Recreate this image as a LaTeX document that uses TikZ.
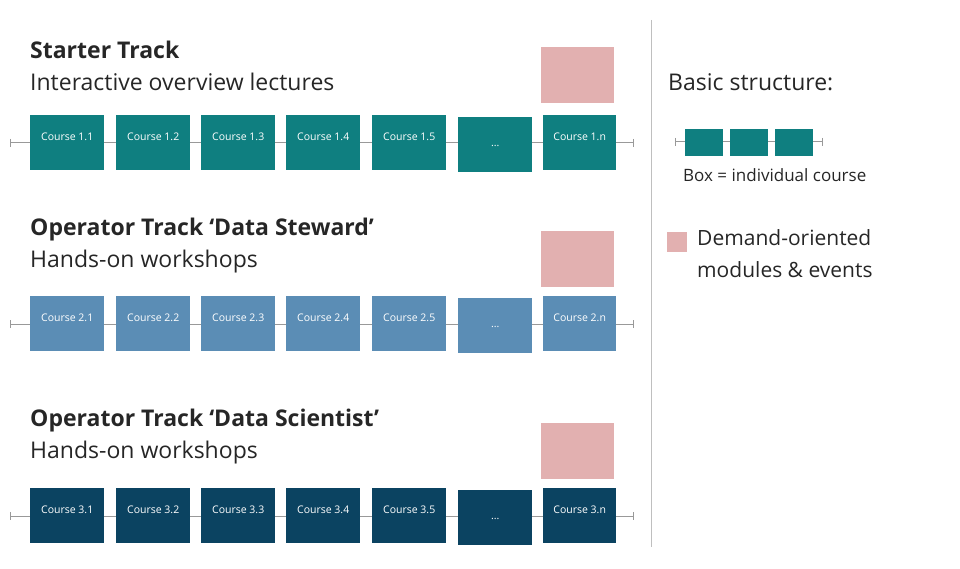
\documentclass[tikz,border=0pt]{standalone}
\usepackage{fontspec}
\setmainfont{Open Sans}
\begin{document}
\begin{tikzpicture}[x=1pt,y=-1pt,
  box/.style={minimum width=74pt,minimum height=55pt,inner sep=0pt,anchor=north west,text=white,font=\fontsize{10.5}{12}\selectfont},
  lbl/.style={anchor=west,inner sep=0pt,font=\fontsize{23}{26}\selectfont,text=black!85},
  ttl/.style={lbl,font=\fontsize{23}{26}\selectfont\bfseries},
  tl/.style={draw=gray!80,line width=1pt}]
\useasboundingbox (0,0) rectangle (960,569);
\definecolor{c1}{HTML}{0F7F80}\definecolor{c2}{HTML}{5B8DB5}\definecolor{c3}{HTML}{0B4361}\definecolor{pk}{HTML}{E2B0B0}
\foreach \t/\col/\yt/\yb/\yp/\ttext/\stext in {1/c1/50/115/47/{Starter Track}/{Interactive overview lectures},2/c2/230/296/231/{Operator Track ‘Data Steward’}/{Hands-on workshops},3/c3/421/488/423/{Operator Track ‘Data Scientist’}/{Hands-on workshops}}{
  \node[ttl] (t\t) at (30,\yt) {\ttext};
  \node[lbl] (s\t) at (30,\yt+32) {\stext};
  \coordinate (L\t) at (10,\yb+28);
  \coordinate (R\t) at (633,\yb+28);
  \draw[tl] (L\t) -- (R\t);
  \draw[tl] (L\t)++(0,-4) -- ++(0,8);
  \draw[tl] (R\t)++(0,-4) -- ++(0,8);
  \foreach \i/\x in {1/30,2/116,3/201,4/286,5/372}{
    \node[box,fill=\col] (b\t\i) at (\x,\yb) {\raisebox{12pt}{Course \t.\i}};}
  \node[box,fill=\col] (d\t) at (458,\yb+2) {\raisebox{-4pt}{...}};
  \node[box,fill=\col,minimum width=73pt] (n\t) at (543,\yb) {\raisebox{12pt}{Course \t.n}};
  \node[fill=pk,minimum width=73pt,minimum height=56pt,anchor=north west,inner sep=0pt] (p\t) at (541,\yp) {};
}
\draw[gray!50,line width=0.8pt] (651,20) coordinate (v1) -- (651,547) coordinate (v2);
\node[lbl] (bs) at (668,82) {Basic structure:};
\coordinate (mL) at (675,142); \coordinate (mR) at (822,142);
\draw[tl] (mL) -- (mR);
\draw[tl] (mL)++(0,-4) -- ++(0,8);
\draw[tl] (mR)++(0,-4) -- ++(0,8);
\foreach \x [count=\k] in {685,730,775}{
  \node[fill=c1,minimum width=38pt,minimum height=27pt,anchor=north west,inner sep=0pt] (m\k) at (\x,129) {};}
\node[anchor=west,inner sep=0pt,font=\fontsize{17}{20}\selectfont,text=black!85] (bx) at (683,175) {Box = individual course};
\node[fill=pk,minimum size=20pt,anchor=north west,inner sep=0pt] (pl) at (667,232) {};
\node[anchor=north west,inner sep=0pt,align=left,font=\fontsize{21}{32}\selectfont,text=black!85] (dm) at (697,229) {Demand-oriented\\modules \& events};
\end{tikzpicture}
\end{document}
